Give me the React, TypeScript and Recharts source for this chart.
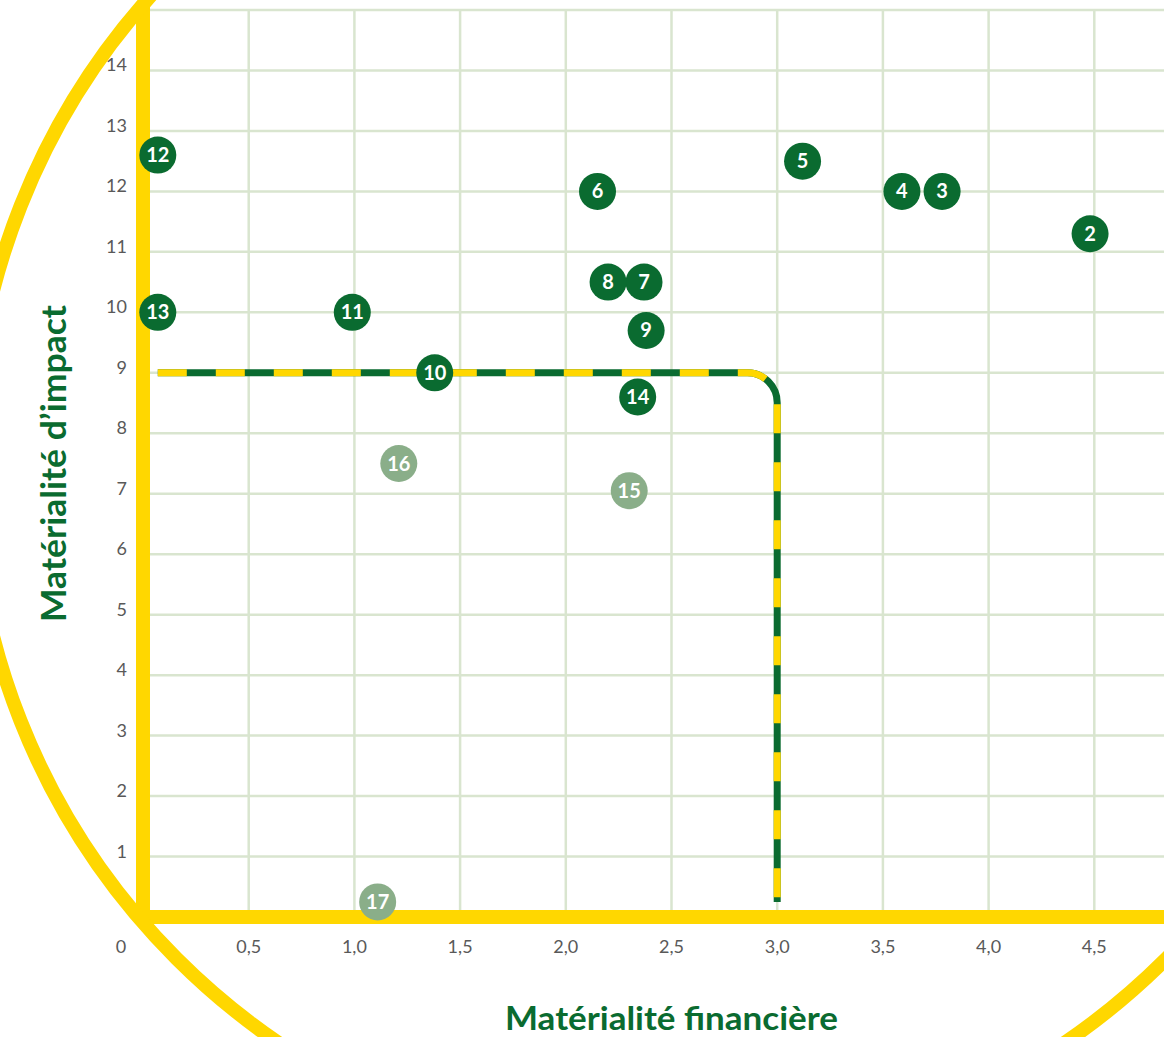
import React from "react";
import {
  ScatterChart,
  Scatter,
  XAxis,
  YAxis,
  CartesianGrid,
  ReferenceDot,
} from "recharts";

// topic numbers and their scores
const topicIds = [2, 3, 4, 5, 6, 7, 8, 9, 10, 11, 12, 13, 14, 15, 16, 17];
const financialScores = [4.48, 3.78, 3.59, 3.12, 2.15, 2.37, 2.2, 2.38, 1.38, 0.99, 0.07, 0.07, 2.34, 2.3, 1.21, 1.11];
const impactScores = [11.3, 12.0, 12.0, 12.5, 12.0, 10.5, 10.5, 9.7, 9.0, 10.0, 12.6, 10.0, 8.6, 7.05, 7.5, 0.25];
const topicTone = ["dark", "dark", "dark", "dark", "dark", "dark", "dark", "dark", "dark", "dark", "dark", "dark", "dark", "light", "light", "light"];

// materiality threshold (corner at 3,0 / 9)
const thresholdX = [0.07, 3, 3];
const thresholdY = [9, 9, 0.25];

const xTicks = [0, 0.5, 1, 1.5, 2, 2.5, 3, 3.5, 4, 4.5, 5];
const yTicks = [0, 1, 2, 3, 4, 5, 6, 7, 8, 9, 10, 11, 12, 13, 14, 15];

const GREEN = "#0a6b30";
const LIGHT_GREEN = "#8aae89";
const YELLOW = "#ffd700";
const GRID = "#d9e5cf";
const TICK = "#595959";
const FONT = "Lato, 'Open Sans', sans-serif";

const topics = topicIds.map((id, i) => ({
  id,
  x: financialScores[i],
  y: impactScores[i],
  tone: topicTone[i],
}));
const darkTopics = topics.filter((t) => t.tone === "dark");
const lightTopics = topics.filter((t) => t.tone === "light");
const threshold = thresholdX.map((x, i) => ({ x, y: thresholdY[i] }));

function formatX(v: number) {
  if (v === 0) return "0";
  return v.toFixed(1).replace(".", ",");
}

function XTick(props: any) {
  const { x, y, payload } = props;
  const v = payload.value;
  // the 5,0 tick falls outside the visible frame
  if (v === 5) return <g />;
  return (
    <text
      x={v === 0 ? x - 22 : x}
      y={y + 36}
      textAnchor="middle"
      fill={TICK}
      fontSize={18}
      fontFamily={FONT}
    >
      {formatX(v)}
    </text>
  );
}

function YTick(props: any) {
  const { x, y, payload } = props;
  const v = payload.value;
  if (v === 0 || v === 15) return <g />;
  return (
    <text x={x - 16} y={y + 1} textAnchor="end" fill={TICK} fontSize={18} fontFamily={FONT}>
      {v}
    </text>
  );
}

function makeBubble(color: string) {
  return (props: any) => {
    const { cx, cy, payload } = props;
    return (
      <g>
        <circle cx={cx} cy={cy} r={18.5} fill={color} />
        <text
          x={cx}
          y={cy + 7}
          textAnchor="middle"
          fill="#ffffff"
          fontSize={20}
          fontWeight={700}
          fontFamily={FONT}
        >
          {payload.id}
        </text>
      </g>
    );
  };
}

// dashed green/yellow threshold with a rounded corner
function thresholdLine(props: any) {
  const pts = props.points || [];
  if (pts.length < 3) return <g />;
  const [a, b, c] = pts;
  const r = 30;
  const d = `M${a.x},${a.y} L${b.x - r},${b.y} A${r},${r} 0 0 1 ${b.x},${b.y + r} L${c.x},${c.y}`;
  return (
    <g>
      <path d={d} fill="none" stroke={GREEN} strokeWidth={7} />
      <path d={d} fill="none" stroke={YELLOW} strokeWidth={7} strokeDasharray="29 29" />
    </g>
  );
}

function XLabel(props: any) {
  const vb = props.viewBox || { x: 143, y: 917, width: 1057, height: 120 };
  return (
    <text
      x={vb.x + vb.width / 2}
      y={vb.y + vb.height - 7}
      textAnchor="middle"
      fill={GREEN}
      fontSize={32}
      fontWeight={700}
      fontFamily={FONT}
      textLength={333}
      lengthAdjust="spacingAndGlyphs"
    >
      Matérialité financière
    </text>
  );
}

function YLabel(props: any) {
  const vb = props.viewBox || { x: 0, y: 10, width: 143, height: 907 };
  const x = vb.x + 66;
  const y = vb.y + vb.height / 2;
  return (
    <text
      x={x}
      y={y}
      transform={`rotate(-90 ${x} ${y})`}
      textAnchor="middle"
      fill={GREEN}
      fontSize={34}
      fontWeight={700}
      fontFamily={FONT}
      textLength={317}
      lengthAdjust="spacingAndGlyphs"
    >
      Matérialité d’impact
    </text>
  );
}

export default function App() {
  return (
    <div
      style={{
        position: "absolute",
        left: 0,
        top: 0,
        width: 1164,
        height: 1037,
        overflow: "hidden",
        background: "#ffffff",
      }}
    >
      <ScatterChart width={1210} height={1037} margin={{ top: 10, right: 10, left: 0, bottom: 0 }}>
        <CartesianGrid stroke={GRID} strokeWidth={2.5} />
        <ReferenceDot
          x={2.5}
          y={7.5}
          r={700}
          fill="none"
          stroke={YELLOW}
          strokeWidth={14}
          ifOverflow="visible"
        />
        <XAxis
          type="number"
          dataKey="x"
          domain={[0, 5]}
          ticks={xTicks}
          interval={0}
          height={120}
          tickSize={0}
          tickMargin={0}
          tickLine={false}
          axisLine={{ stroke: YELLOW, strokeWidth: 14, strokeLinecap: "square" }}
          tick={<XTick />}
          label={XLabel}
        />
        <YAxis
          type="number"
          dataKey="y"
          domain={[0, 15]}
          ticks={yTicks}
          interval={0}
          width={143}
          tickSize={0}
          tickMargin={0}
          tickLine={false}
          axisLine={{ stroke: YELLOW, strokeWidth: 14, strokeLinecap: "square" }}
          tick={<YTick />}
          label={YLabel}
        />
        <Scatter
          data={threshold}
          line={thresholdLine}
          lineType="joint"
          shape={() => <g />}
          isAnimationActive={false}
        />
        <Scatter data={darkTopics} shape={makeBubble(GREEN)} isAnimationActive={false} />
        <Scatter data={lightTopics} shape={makeBubble(LIGHT_GREEN)} isAnimationActive={false} />
      </ScatterChart>
    </div>
  );
}
